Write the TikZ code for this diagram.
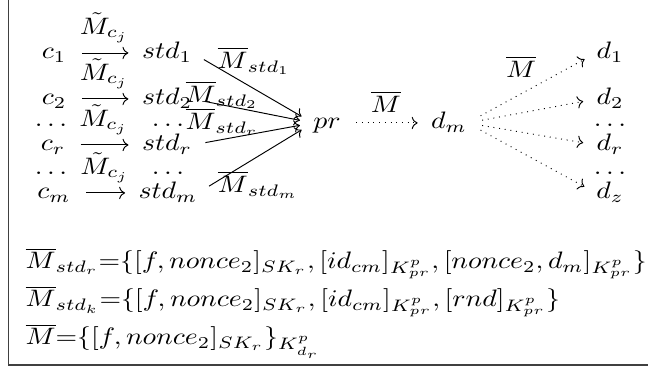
\documentclass[tikz,border=0pt]{standalone}
\usepackage{amsmath,amssymb}
\usetikzlibrary{arrows.meta, positioning}

\begin{document}
\begin{tikzpicture}[
    x=0.36pt, y=-0.42pt, xscale=1.167,
    term/.style={inner sep=0pt, text height=7pt, text depth=2pt, transform shape},
    lbl/.style={inner sep=0pt, transform shape},
    send/.style={-{Computer Modern Rightarrow}, shorten <=6.3pt, shorten >=5.5pt},
    share/.style={-{Computer Modern Rightarrow}, shorten <=5.5pt, shorten >=5.5pt},
    fwd/.style={dotted, -{Computer Modern Rightarrow}, shorten <=6.3pt, shorten >=5.5pt},
    eqn/.style={anchor=base west, inner sep=0pt, transform shape},
    frame/.style={draw=black!75, line width=0.7pt}
]
\useasboundingbox (0,0) rectangle (649,369);

% Frame
\draw[frame] (8.5,0) -- (8.5,365) -- (648,365);

% Clients
\node[term] (c1) at (54,53) {$c_1$};
\node[term] (c2) at (54,99) {$c_2$};
\node[term] (cdots) at (51,121) {$\ldots$};
\node[term] (cr) at (53,145) {$c_r$};
\node[term] (cdotsb) at (51,169) {$\ldots$};
\node[term] (cm) at (54,193) {$c_m$};

% Storage nodes
\node[term] (std1) at (167,53) {$std_1$};
\node[term] (std2) at (167,99) {$std_2$};
\node[term] (stddots) at (168,121) {$\ldots$};
\node[term] (stdr) at (167,145) {$std_r$};
\node[term] (stddotsb) at (168,169) {$\ldots$};
\node[term] (stdm) at (168,193) {$std_m$};

% Proxy and destinations
\node[term] (pr) at (327,123) {$pr$};
\node[term] (dm) at (449,123) {$d_m$};
\node[term] (d1) at (610,53) {$d_1$};
\node[term] (d2) at (610,99) {$d_2$};
\node[term] (ddots) at (610,121) {$\ldots$};
\node[term] (dr) at (610,145) {$d_r$};
\node[term] (ddotsb) at (610,169) {$\ldots$};
\node[term] (dz) at (610,193) {$d_z$};

% Arrows: clients to storage
\foreach \a/\b in {c1/std1, c2/std2, cr/stdr, cm/stdm}
    \draw[send] (\a) -- node[lbl, above=4.2pt] {$\tilde{M}_{c_j}$} (\b);

% Arrows: storage to proxy
\foreach \s in {std1, std2, stdr, stdm}
    \draw[share] (\s.east) -- (pr.west);
\node[lbl] (lstd1) at (254,61) {$\overline{M}_{std_1}$};
\node[lbl] (lstd2) at (222,95) {$\overline{M}_{std_2}$};
\node[lbl] (lstdr) at (222,122) {$\overline{M}_{std_r}$};
\node[lbl] (lstdm) at (258,185) {$\overline{M}_{std_m}$};

% Arrows: proxy to destinations
\draw[fwd] (pr) -- node[lbl, above=4.2pt] {$\overline{M}$} (dm);
\foreach \d in {d1, d2, dr, dz}
    \draw[fwd] (dm.east) -- (\d.west);
\node[lbl] (ld) at (521,67) {$\overline{M}$};

% Messages
\node[eqn] (eq1) at (25,269) {$\overline{M}_{std_r}{=}\{[f, nonce_2]_{SK_r}, [id_{cm}]_{K^p_{pr}}, [nonce_2, d_m]_{K^p_{pr}}\}$};
\node[eqn] (eq2) at (25,307) {$\overline{M}_{std_k}{=}\{[f, nonce_2]_{SK_r}, [id_{cm}]_{K^p_{pr}}, [rnd]_{K^p_{pr}}\}$};
\node[eqn] (eq3) at (25,345) {$\overline{M}{=}\{[f, nonce_2]_{SK_r}\}_{K^p_{d_r}}$};

\end{tikzpicture}
\end{document}
